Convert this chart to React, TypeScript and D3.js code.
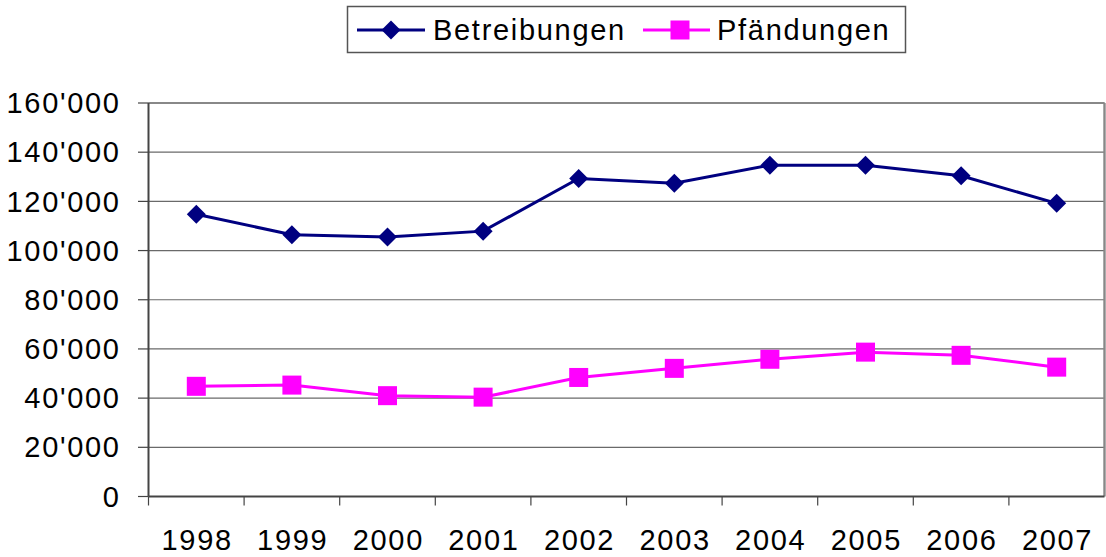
import React from "react";
import * as d3 from "d3";

const years = ["1998", "1999", "2000", "2001", "2002", "2003", "2004", "2005", "2006", "2007"];
const betreibungen = [114800, 106400, 105500, 107900, 129300, 127400, 134700, 134700, 130400, 119200];
const pfaendungen = [44800, 45300, 41000, 40400, 48400, 52100, 55800, 58700, 57400, 52600];
const yTicks = [0, 20000, 40000, 60000, 80000, 100000, 120000, 140000, 160000];
const seriesNames = ["Betreibungen", "Pfändungen"];

const W = 1106;
const H = 557;
const left = 148.5;
const right = 1104.5;
const top = 103;
const bottom = 496.5;
const FONT = "'Liberation Sans', Arial, sans-serif";
const BLUE = "#000080";
const PINK = "#FF00FF";
const LS = 1.7;

function fmt(v: number): string {
  return d3.format(",")(v).replace(/,/g, "'");
}

export default function App() {
  const x = d3.scaleBand<string>().domain(years).range([left, right]);
  const y = d3.scaleLinear().domain([0, 160000]).range([bottom, top]);
  const cx = (yr: string) => (x(yr) as number) + x.bandwidth() / 2;

  const line = d3
    .line<number>()
    .x((_, i) => cx(years[i]))
    .y((d) => y(d));

  const diamond = (px: number, py: number, r: number) =>
    `M${px},${py - r}L${px + r},${py}L${px},${py + r}L${px - r},${py}Z`;

  return (
    <svg
      width={W}
      height={H}
      style={{ position: "absolute", left: 0, top: 0, background: "#fff" }}
      fontFamily={FONT}
    >
      {/* gridlines */}
      {yTicks.slice(1).map((t) => (
        <line key={t} x1={left} x2={right} y1={y(t)} y2={y(t)} stroke="#6a6a6a" strokeWidth={1.2} />
      ))}
      {/* plot border right/top */}
      <line x1={left} x2={right} y1={top} y2={top} stroke="#888" strokeWidth={2} />
      <line x1={right} x2={right} y1={top} y2={bottom} stroke="#888" strokeWidth={2.4} />
      {/* y axis */}
      <line x1={left} x2={left} y1={top} y2={bottom} stroke="#444" strokeWidth={2} />
      {yTicks.map((t) => (
        <g key={t}>
          <line x1={138} x2={left} y1={y(t)} y2={y(t)} stroke="#444" strokeWidth={1.2} />
          <text
            x={119 + LS}
            y={y(t)}
            dy="0.35em"
            textAnchor="end"
            fontSize={29}
            letterSpacing={LS}
            fill="#000"
          >
            {fmt(t)}
          </text>
        </g>
      ))}
      {/* x axis */}
      <line x1={left} x2={right} y1={bottom} y2={bottom} stroke="#444" strokeWidth={2} />
      {years.map((yr) => (
        <g key={yr}>
          <line
            x1={x(yr) as number}
            x2={x(yr) as number}
            y1={bottom}
            y2={bottom + 9}
            stroke="#444"
            strokeWidth={1.2}
          />
          <text
            x={cx(yr) + LS / 2}
            y={550}
            textAnchor="middle"
            fontSize={29}
            letterSpacing={LS}
            fill="#000"
          >
            {yr}
          </text>
        </g>
      ))}
      {/* series lines */}
      <path d={line(betreibungen) || ""} fill="none" stroke={BLUE} strokeWidth={3} />
      <path d={line(pfaendungen) || ""} fill="none" stroke={PINK} strokeWidth={3} />
      {betreibungen.map((v, i) => (
        <path key={i} d={diamond(cx(years[i]), y(v), 9.5)} fill={BLUE} />
      ))}
      {pfaendungen.map((v, i) => (
        <rect key={i} x={cx(years[i]) - 9.5} y={y(v) - 9.5} width={19} height={19} fill={PINK} />
      ))}
      {/* legend */}
      <rect x={347.5} y={6.5} width={558} height={46} fill="#fff" stroke="#555" strokeWidth={1.5} />
      <line x1={357} x2={425} y1={30} y2={30} stroke={BLUE} strokeWidth={3} />
      <path d={diamond(391, 30, 9.5)} fill={BLUE} />
      <text x={433} y={39.5} fontSize={29} letterSpacing={LS} fill="#000">
        {seriesNames[0]}
      </text>
      <line x1={643} x2={710} y1={30} y2={30} stroke={PINK} strokeWidth={3} />
      <rect x={670.5} y={20.5} width={19} height={19} fill={PINK} />
      <text x={717} y={39.5} fontSize={29} letterSpacing={LS} fill="#000">
        {seriesNames[1]}
      </text>
    </svg>
  );
}
